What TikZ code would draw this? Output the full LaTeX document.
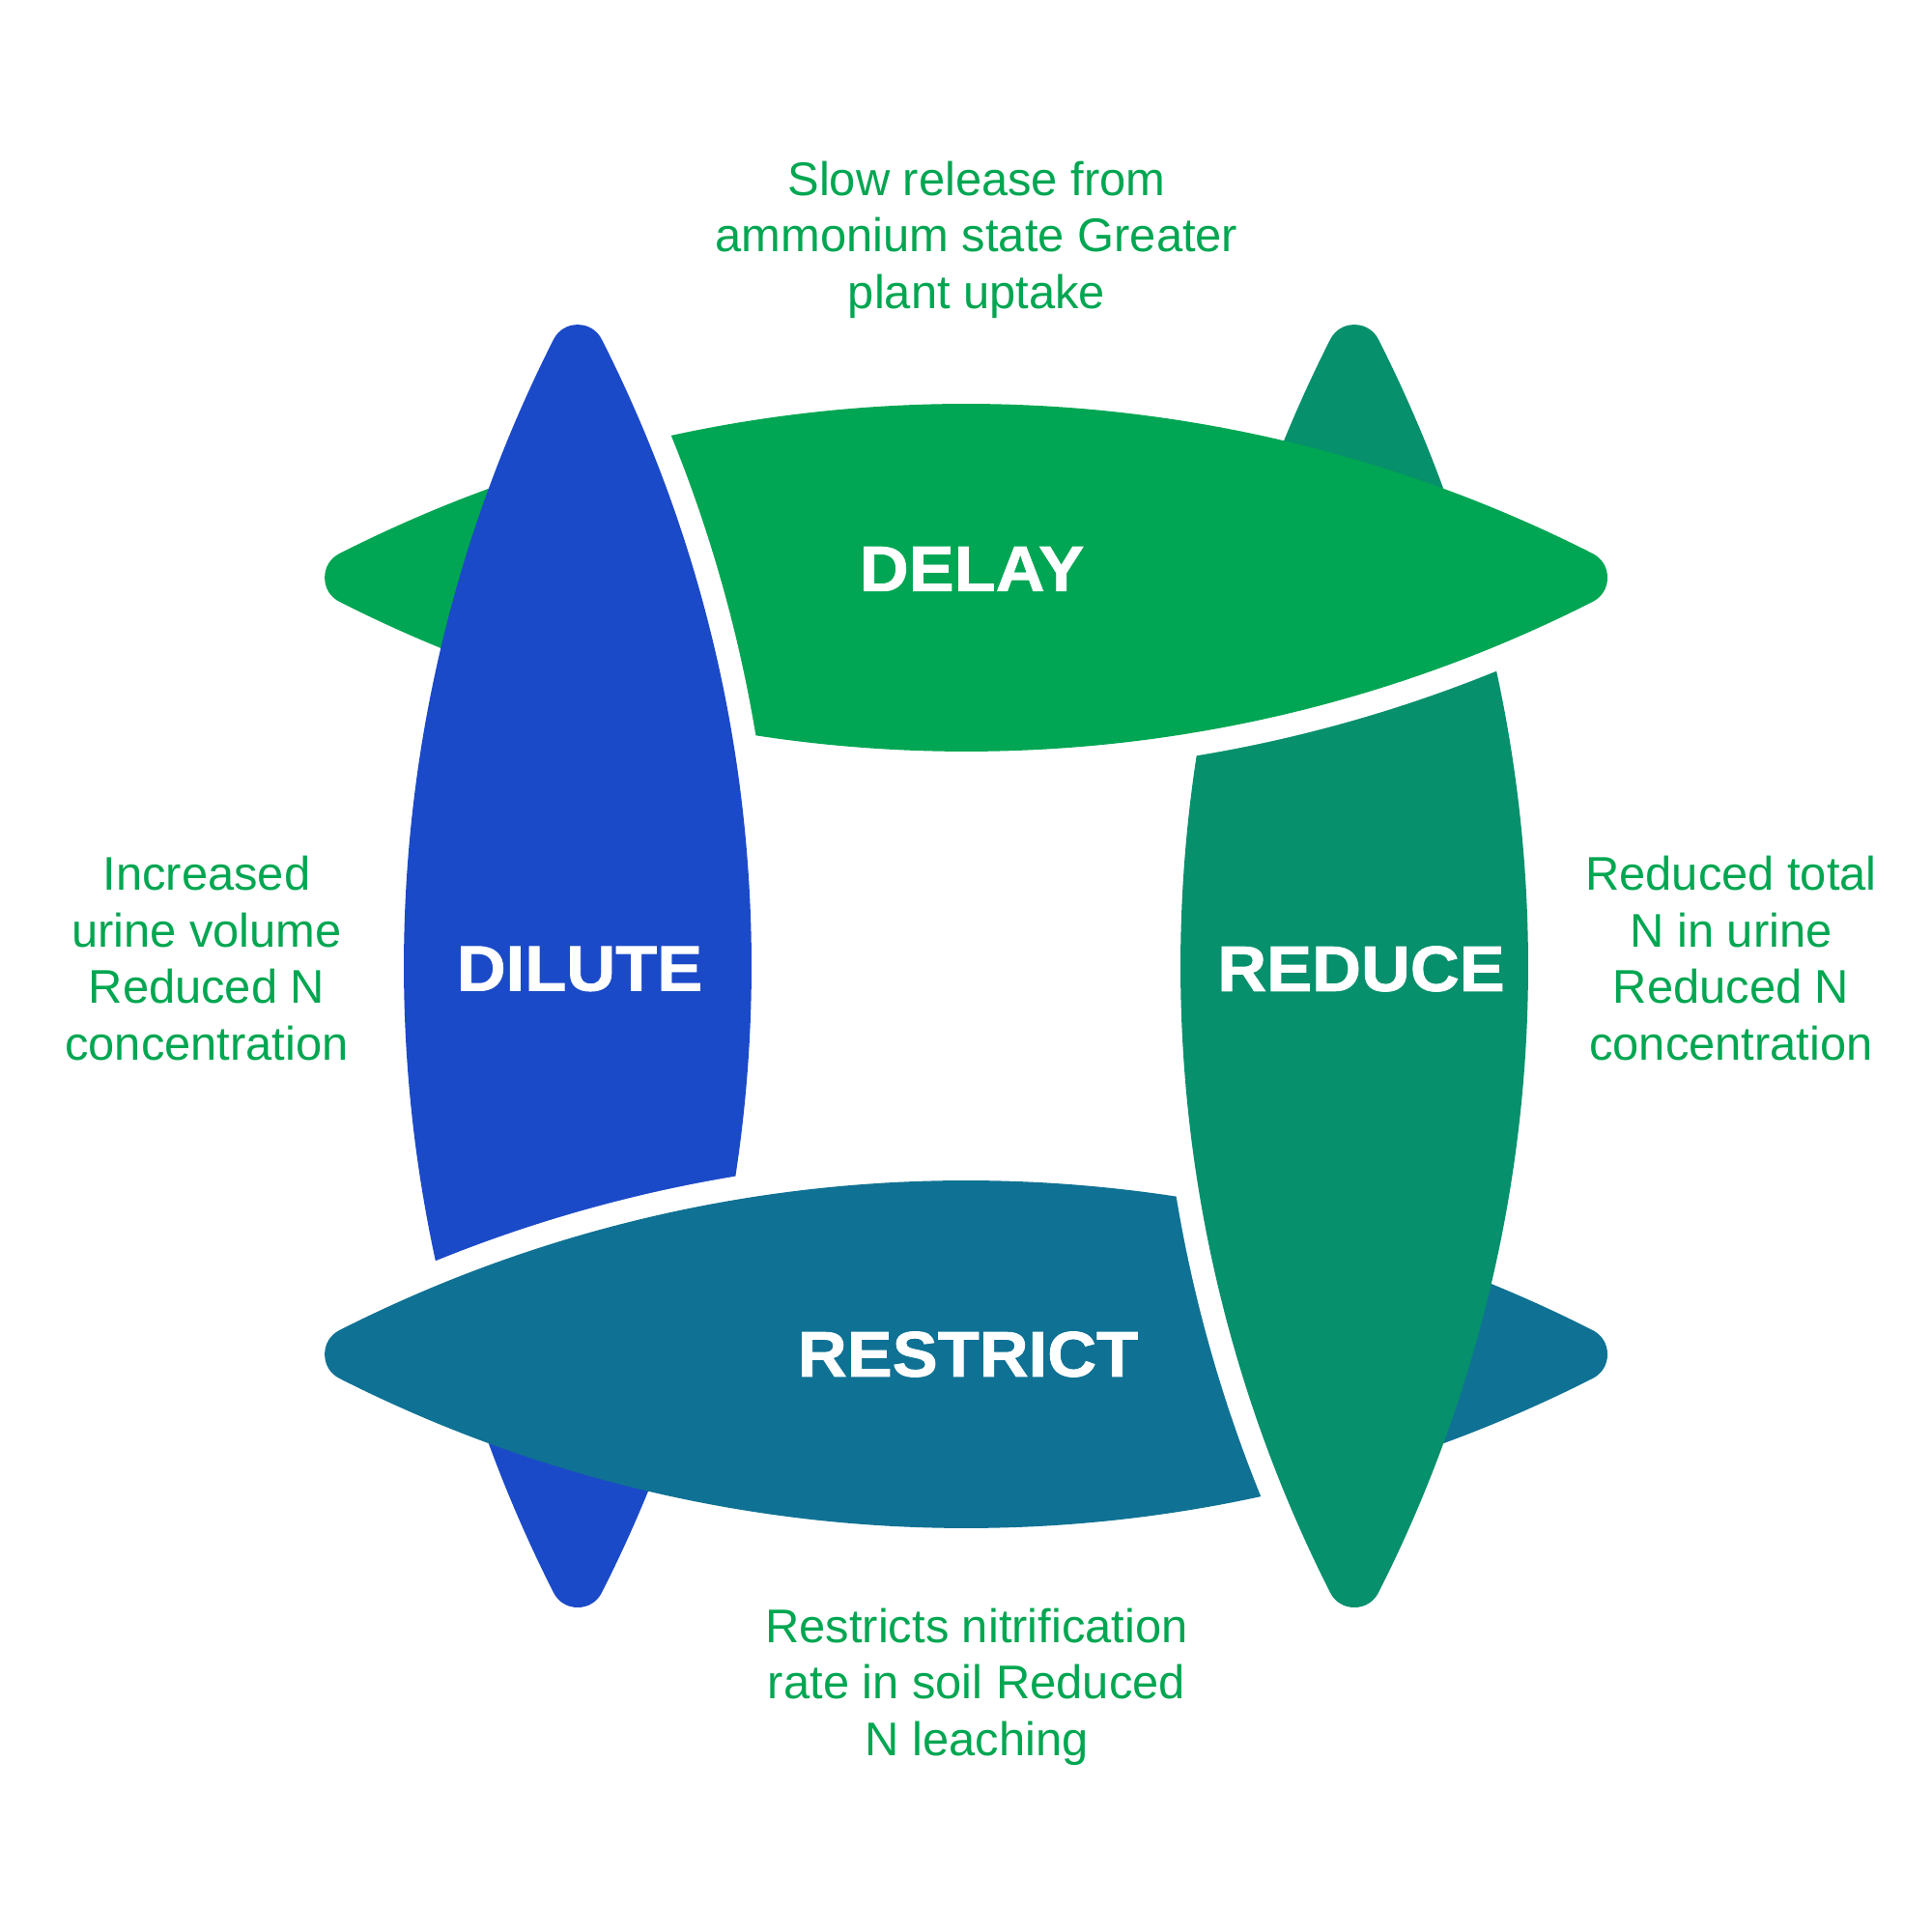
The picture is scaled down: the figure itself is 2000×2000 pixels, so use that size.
\documentclass[tikz,border=0pt]{standalone}
\usepackage{fontspec}
\setmainfont{Liberation Sans}
\newfontfamily\tagfont[FakeStretch=1.06, FakeBold=1.2]{Liberation Sans}

\definecolor{dilutecol}{RGB}{27,74,200}
\definecolor{delaycol}{RGB}{0,166,83}
\definecolor{reducecol}{RGB}{6,144,108}
\definecolor{restrictcol}{RGB}{15,114,148}
\definecolor{notecol}{RGB}{0,166,81}

% one leaf, standing upright round its own centre
\newcommand{\edgeR}{(0,-636) arc[start angle=-26.88, end angle=26.88, radius=1406.6]}
\newcommand{\edgeL}{(0,636) arc[start angle=153.12, end angle=206.88, radius=1406.6]}
\newcommand{\leafpath}{\edgeR arc[start angle=153.12, end angle=206.88, radius=1406.6] -- cycle}

\tikzset{
  leaf/.style={line width=0.56cm, line join=round},
  gap/.style={draw=white, line width=1.04cm},
  tag/.style={text=white, font=\tagfont\bfseries\fontsize{18.9}{22}\selectfont},
  note/.style={text=notecol, align=center, font=\fontsize{13.9}{16.65}\selectfont}
}

\begin{document}
\begin{tikzpicture}[x=0.01cm, y=0.01cm]
\useasboundingbox (0,0) rectangle (2000,2000);

% upper half
\begin{scope}
    \clip (0,998) rectangle (2000,2000);
    \begin{scope}[shift={(1402,1000)}]
        \filldraw [leaf, reducecol] \leafpath;
    \end{scope}
    \begin{scope}[shift={(1000,1402)}, rotate=90]
        \draw [gap] \edgeL;
        \filldraw [leaf, delaycol] \leafpath;
    \end{scope}
    \begin{scope}[shift={(598,1000)}]
        \draw [gap] \edgeR;
        \filldraw [leaf, dilutecol] \leafpath;
    \end{scope}
\end{scope}

% lower half
\begin{scope}
    \clip (0,0) rectangle (2000,1002);
    \begin{scope}[shift={(598,1000)}]
        \filldraw [leaf, dilutecol] \leafpath;
    \end{scope}
    \begin{scope}[shift={(1000,598)}, rotate=90]
        \draw [gap] \edgeR;
        \filldraw [leaf, restrictcol] \leafpath;
    \end{scope}
    \begin{scope}[shift={(1402,1000)}]
        \draw [gap] \edgeL;
        \filldraw [leaf, reducecol] \leafpath;
    \end{scope}
\end{scope}

\node [tag] (delay)    at (1006,1411) {DELAY};
\node [tag] (restrict) at (1002,598)  {RESTRICT};
\node [tag] (dilute)   at (600,997)   {DILUTE};
\node [tag] (reduce)   at (1409,997)  {REDUCE};

\node [note] (delaynote)    at (1011,1752) {Slow release from\\ammonium state Greater\\plant uptake};
\node [note] (restrictnote) at (1011,254)  {Restricts nitrification\\rate in soil Reduced\\N leaching};
\node [note] (dilutenote)   at (214,1008)  {Increased\\urine volume\\Reduced N\\concentration};
\node [note] (reducenote)   at (1792,1008) {Reduced total\\N in urine\\Reduced N\\concentration};
\end{tikzpicture}
\end{document}
